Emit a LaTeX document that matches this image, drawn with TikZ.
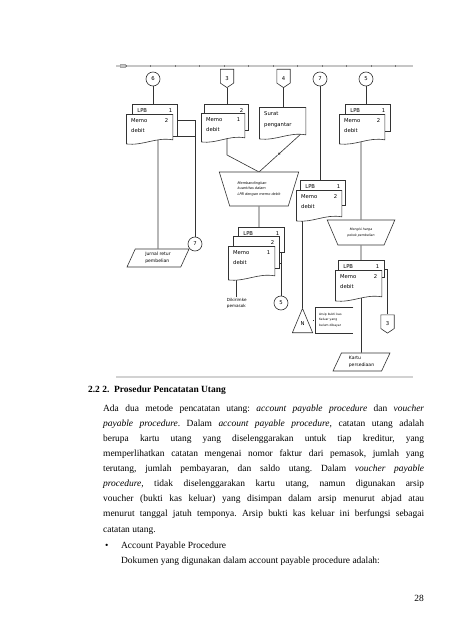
\documentclass[tikz,border=0pt]{standalone}
\usepackage{fontspec}
\setmainfont{Liberation Serif}
\newfontfamily\cfont{DejaVu Sans}
\usetikzlibrary{arrows.meta, shapes.geometric, positioning, calc}
\pgfdeclarelayer{background}
\pgfsetlayers{background,main}
\newcommand\pxu{0.4646mm}
\newcommand\docnr[1]{\hfill#1\hspace*{2.5pt}}
\tikzset{
  >=Latex,
  flow/.style     = {draw=black!80, line width=0.8pt},
  lbl/.style      = {font=\cfont\fontsize{7}{13}\selectfont},
  small/.style    = {font=\cfont\fontsize{6}{9}\selectfont},
  tiny/.style     = {font=\cfont\itshape\fontsize{4.6}{7.2}\selectfont},
  body/.style     = {font=\fontsize{12.5}{20}\selectfont\frenchspacing, inner sep=0pt},
  conn/.style     = {circle, draw=black!80, fill=white, line width=0.8pt,
                     minimum size=14*\pxu, inner sep=0pt, lbl},
  offpage/.style  = {rectangle, minimum width=14*\pxu, minimum height=19*\pxu,
                     inner sep=0pt, lbl, path picture={
      \coordinate (pnw) at (path picture bounding box.north west);
      \coordinate (pne) at (path picture bounding box.north east);
      \coordinate (pse) at (path picture bounding box.south east);
      \coordinate (psw) at (path picture bounding box.south west);
      \filldraw[fill=white, draw=black!80, line width=0.8pt]
        ([shift={(0.4pt,-0.4pt)}]pnw) -- ([shift={(-0.4pt,-0.4pt)}]pne)
        -- ($(pse)!0.26!(pne)+(-0.4pt,0)$)
        -- ([yshift=0.5pt]path picture bounding box.south)
        -- ($(psw)!0.26!(pnw)+(0.4pt,0)$) -- cycle;}},
  backdoc/.style n args = {2}{rectangle, draw=black!80, fill=white, line width=0.8pt,
                     lbl, anchor=north west, align=left, inner xsep=5*\pxu, inner ysep=2pt,
                     text width={(#1-10)*\pxu}, text height=8.4pt, text depth={#2*\pxu-12.4pt}},
  frontdoc/.style n args = {2}{rectangle, lbl, anchor=north west, align=left,
                     inner xsep=5*\pxu, inner ysep=2pt, minimum height=#2*\pxu,
                     text width={(#1-10)*\pxu}, text height=9pt, text depth={#2*\pxu-13pt},
                     path picture={
      \coordinate (pnw) at (path picture bounding box.north west);
      \coordinate (pne) at (path picture bounding box.north east);
      \coordinate (pse) at (path picture bounding box.south east);
      \coordinate (psw) at (path picture bounding box.south west);
      \coordinate (ps)  at (path picture bounding box.south);
      \filldraw[fill=white, draw=black!80, line width=0.8pt]
        ([shift={(0.4pt,-0.4pt)}]pnw) -- ([shift={(-0.4pt,-0.4pt)}]pne)
        -- ([shift={(-0.4pt,7pt)}]pse)
        .. controls ([shift={(8pt,11pt)}]ps) and ([shift={(-8pt,-1pt)}]ps) ..
        ([shift={(0.4pt,1.6pt)}]psw) -- cycle;}},
  manop/.style    = {trapezium, trapezium stretches=true, draw=black!80, fill=white,
                     line width=0.8pt, tiny, align=left, inner sep=1pt},
  iodata/.style   = {trapezium, trapezium stretches=true, trapezium left angle=66,
                     trapezium right angle=114, draw=black!80, fill=white,
                     line width=0.8pt, small, align=left, inner sep=1pt},
  merge/.style    = {rectangle, minimum width=21*\pxu, minimum height=25*\pxu,
                     inner sep=0pt, lbl, text height=14pt, text depth=0pt, path picture={
      \filldraw[fill=white, draw=black!80, line width=0.8pt]
        ([shift={(0.5pt,0.4pt)}]path picture bounding box.south west)
        -- ([yshift=-0.6pt]path picture bounding box.north)
        -- ([shift={(-0.5pt,0.4pt)}]path picture bounding box.south east) -- cycle;}},
  note/.style     = {rectangle, anchor=north west, minimum width=38*\pxu,
                     minimum height=25*\pxu, text width={30*\pxu}, inner xsep=4*\pxu,
                     align=left, font=\cfont\fontsize{4}{6.8}\selectfont},
}
\begin{document}
\begin{tikzpicture}[x=\pxu, y=-\pxu]
  \useasboundingbox (0,0) rectangle (452,640);
  \begin{pgfonlayer}{background}
    \fill[white] (0,0) rectangle (452,640);
  \end{pgfonlayer}

  % ruler bar of the pasted chart
  \draw[gray!45, line width=2.5*\pxu] (116,66) -- (413,66);
  \draw[gray!70, line width=0.4pt] (120,64.5) rectangle (125,67.5);
  \foreach \t in {0,...,11}
    \fill[black!55] ({125.5+24.5*\t},65.3) rectangle ++(1,1.6);
  \draw[gray!35, line width=2*\pxu] (116,377) -- (413,377);

  % connectors at the top
  \node[conn]    (c6)   at (153,79)   {6};
  \node[offpage] (off3) at (227,78.5) {3};
  \node[offpage] (off4) at (283.5,78.5) {4};
  \node[conn]    (c7)   at (320,79)   {7};
  \node[conn]    (c5)   at (366,79)   {5};

  % documents
  \node[backdoc={45}{32}]  (backA)  at (132,104) {LPB\docnr{1}};
  \node[frontdoc={47}{31}] (frontA) at (126,114) {Memo\docnr{2}\\debit};
  \node[backdoc={44}{26}]  (backB)  at (204,104) {\docnr{2}};
  \node[frontdoc={44}{30}] (frontB) at (201,113) {Memo\docnr{1}\\debit};
  \node[frontdoc={47}{33}] (sp)     at (259,107) {Surat\\[2pt]pengantar};
  \node[backdoc={45}{27}]  (backC)  at (345,104) {LPB\docnr{1}};
  \node[frontdoc={46}{31}] (frontC) at (339,114) {Memo\docnr{2}\\debit};

  \node[manop, trapezium left angle=116.6, trapezium right angle=116.6,
        minimum width=80*\pxu, minimum height=34*\pxu]
    (t1) at (259,189) {Membandingkan\\kuantitas dalam\\LPB dengan memo debit};
  \node[manop, trapezium left angle=122.6, trapezium right angle=122.6,
        minimum width=68*\pxu, minimum height=25*\pxu,
        font=\cfont\itshape\fontsize{4.2}{7.8}\selectfont, align=center]
    (t2) at (361,232.5) {Mengisi harga\\pokok pembelian};

  \node[backdoc={45}{25}]  (backE)  at (300,180) {LPB\docnr{1}};
  \node[frontdoc={46}{32}] (frontE) at (296,190) {Memo\docnr{2}\\debit};
  \node[backdoc={46}{25}]  (backD)  at (238,227) {LPB\docnr{1}};
  \node[backdoc={46}{32}]  (midD)   at (233,236) {\docnr{2}};
  \node[frontdoc={47}{35}] (frontD) at (228,246) {Memo\docnr{1}\\debit};
  \node[backdoc={46}{17}]  (backF)  at (338,260) {LPB\docnr{1}};
  \node[frontdoc={47}{32}] (frontF) at (335,270) {Memo\docnr{2}\\debit};

  % outputs
  \node[iodata, trapezium left angle=69, trapezium right angle=111,
        minimum width=62*\pxu, minimum height=18*\pxu] (jr) at (158,258) {Jurnal retur\\pembelian};
  \node[conn] (c7b) at (195,244) {7};
  \node[small, anchor=north west, align=left, inner sep=1pt,
        font=\cfont\fontsize{5.5}{8}\selectfont] (kirim) at (226,297) {Dikirimke\\pemasok};
  \node[conn] (c5b) at (281,303) {5};
  \node[merge] (arsipN) at (302.5,320.5) {N};
  \node[note] (arsip) at (315,307.5) {Arsip bukti kas\\Keluar yang\\belum dibayar};
  \draw[flow] (arsip.north east) -- (arsip.north west) -- (arsip.south west) -- (arsip.south east);
  \node[offpage] (off3b) at (387.5,324) {3};
  \node[iodata, minimum width=57*\pxu, minimum height=18*\pxu] (kartu) at (361.5,362) {Kartu\\persediaan};

  \coordinate (mrg)   at (259,172);
  \coordinate (bendB) at (227,155);
  \coordinate (spout) at (302,133);
  \coordinate (spmid) at ($(spout)!0.57!(mrg)$);

  \begin{pgfonlayer}{background}
    \draw[flow] (c6) -- (c6 |- backA);
    \draw[flow] (jr |- frontA) -- (jr);
    \draw[flow] (backA.east) -| (c7b);
    \draw[flow] (backA.south east) -- (backA.south east -| c7b);
    \draw[flow] (c7b) -- (jr.top right corner);
    \draw[flow] (off3) -- (off3 |- backB);
    \draw[flow] (off4) -- (off4 |- sp);
    \draw[flow] (bendB |- frontB) -- (bendB) -- (mrg);
    \draw[flow, -{Latex[length=4pt, width=3.4pt]}] (spout) -- (spmid);
    \draw[flow] (spmid) -- (mrg);
    \draw[flow] (t1) -- (t1 |- backD);
    \draw[flow] (midD.east) -| (c5b);
    \draw[flow] (frontD.east) -| (c5b);
    \draw[flow] (kirim.north) -- (kirim.north |- frontD);
    \draw[flow] (c7) -- (c7 |- backE);
    \draw[flow] (arsipN) -- (arsipN |- frontE);
    \draw[flow, dash pattern=on 1.5pt off 1.2pt] (arsipN) -- (arsipN -| arsip.west);
    \draw[flow] (c5) -- (c5 |- backC);
    \draw[flow] (t2 |- frontC) -- (t2);
    \draw[flow] (t2) -- (t2 |- backF);
    \draw[flow] (backF.east) -| (off3b);
    \draw[flow] (kartu) -- (kartu |- frontF);
  \end{pgfonlayer}

  % text of the page
  \node[body, anchor=base west] (head) at (88,392)
    {\textbf{2.2 2.\ \ Prosedur Pencatatan Utang}};
  \node[body, anchor=base west, text width=321*\pxu, align=justify] (para) at (103,411)
    {Ada dua metode pencatatan utang: \textit{account payable procedure} dan \textit{voucher}\linebreak
     \textit{payable procedure}. Dalam \textit{account payable procedure,} catatan utang adalah\linebreak
     berupa kartu utang yang diselenggarakan untuk tiap kreditur, yang\linebreak
     memperlihatkan catatan mengenai nomor faktur dari pemasok, jumlah yang\linebreak
     terutang, jumlah pembayaran, dan saldo utang. Dalam \textit{voucher payable}\linebreak
     \textit{procedure,} tidak diselenggarakan kartu utang, namun digunakan arsip\linebreak
     voucher (bukti kas keluar) yang disimpan dalam arsip menurut abjad atau\linebreak
     menurut tanggal jatuh temponya. Arsip bukti kas keluar ini berfungsi sebagai\linebreak
     catatan utang.};
  \node[body, anchor=base west] (bul)  at (105,548) {\textbullet};
  \node[body, anchor=base west] (item) at (121,548) {Account Payable Procedure};
  \node[body, anchor=base west] (dok)  at (121,563) {Dokumen yang digunakan dalam account payable procedure adalah:};
  \node[body, anchor=base east] (page) at (424,601) {28};
\end{tikzpicture}
\end{document}
